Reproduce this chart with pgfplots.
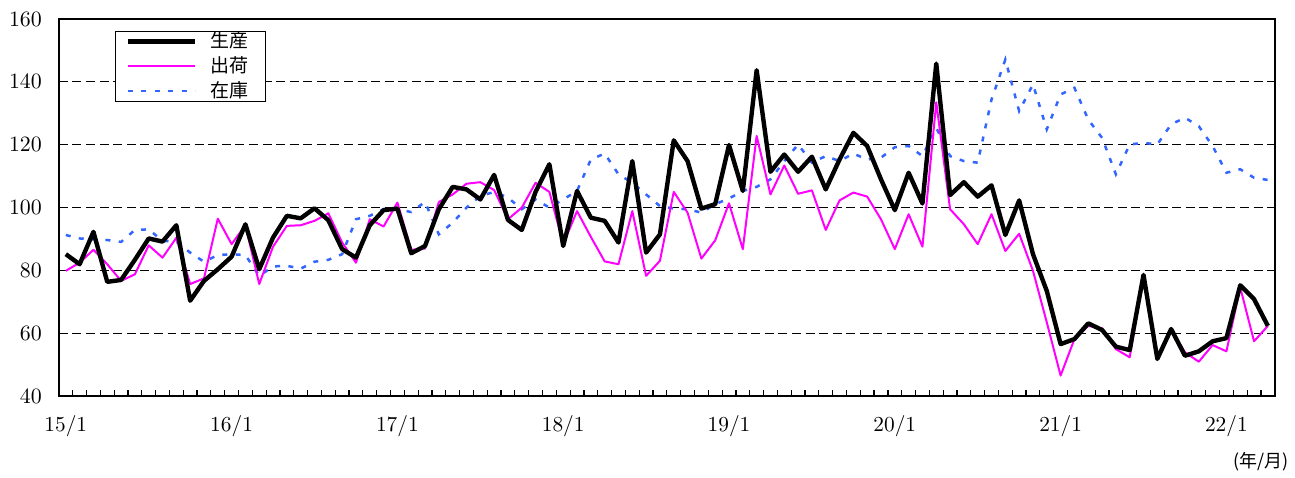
\documentclass[border=0pt]{standalone}
\usepackage{pgfplots}
\pgfplotsset{compat=1.18}
\usepackage{pgfplotstable}
\usepackage{fontspec}
\newfontfamily\cjk{Noto Sans CJK JP}
\definecolor{prodblack}{RGB}{0,0,0}
\definecolor{shipmag}{RGB}{255,0,255}
\definecolor{invblue}{RGB}{51,102,255}

\pgfplotstableread{
i P S I
0 85.2 79.9 91.3
1 82.0 82.5 90.2
2 92.3 86.6 89.9
3 76.4 82.0 89.7
4 77.0 76.7 89.1
5 83.4 78.8 92.9
6 90.2 88.0 93.1
7 89.2 84.1 89.4
8 94.4 90.4 89.2
9 70.4 75.7 85.7
10 76.7 77.5 82.8
11 80.4 96.5 84.9
12 84.4 88.4 85.2
13 94.7 94.4 84.9
14 80.4 75.7 78.3
15 90.5 87.6 81.3
16 97.4 94.2 81.5
17 96.6 94.4 80.6
18 99.8 95.8 82.8
19 96.0 98.2 83.4
20 86.8 88.9 85.2
21 84.1 82.5 96.3
22 94.4 96.3 97.4
23 99.2 94.0 99.5
24 99.7 101.6 99.5
25 85.5 86.6 98.6
26 87.8 87.0 101.8
27 99.5 101.8 91.5
28 106.6 104.2 95.2
29 105.8 107.6 100.0
30 102.6 108.1 103.7
31 110.4 105.6 105.0
32 96.1 96.3 103.2
33 92.9 100.0 99.5
34 105.0 107.9 102.6
35 113.8 105.0 100.0
36 87.8 88.4 102.6
37 105.3 98.9 105.3
38 96.8 90.7 115.3
39 95.8 82.9 117.2
40 88.9 82.0 110.6
41 114.8 98.9 107.9
42 85.7 78.3 104.2
43 91.5 83.1 100.5
44 121.4 105.0 99.7
45 114.8 98.4 99.5
46 99.7 83.8 98.4
47 101.1 89.6 101.1
48 119.9 101.4 102.9
49 105.3 86.8 105.3
50 143.7 122.8 106.6
51 111.4 104.2 109.0
52 116.9 113.4 114.8
53 111.4 104.4 120.1
54 116.2 105.5 114.3
55 105.8 92.9 116.4
56 115.3 102.3 114.8
57 123.8 104.8 117.2
58 119.6 103.5 115.3
59 109.0 96.3 115.9
60 99.2 86.8 119.2
61 111.1 97.9 119.6
62 101.3 87.6 116.4
63 145.8 133.5 125.4
64 104.0 99.5 116.4
65 108.1 94.7 114.8
66 103.5 88.4 114.3
67 107.1 97.9 134.4
68 91.3 86.2 147.1
69 102.3 91.7 130.7
70 85.2 79.9 139.2
71 73.5 63.5 124.9
72 56.6 46.6 136.0
73 58.2 58.2 138.1
74 63.2 62.4 128.0
75 61.1 61.6 122.2
76 55.8 55.0 110.6
77 54.7 52.4 120.1
78 78.6 78.3 120.6
79 51.9 52.9 120.1
80 61.4 61.1 126.5
81 52.9 54.0 128.6
82 54.3 51.0 125.9
83 57.5 56.3 119.6
84 58.5 54.3 111.1
85 75.3 74.6 112.2
86 70.9 57.5 109.5
87 62.4 62.4 108.8
}\datatable

\begin{document}
\begin{tikzpicture}
\begin{axis}[
  name=ax,
  scale only axis,
  width=609pt, height=189pt,
  xmin=-0.5, xmax=87.5, ymin=40, ymax=160,
  xtick={0,12,...,84},
  xticklabels={15/1,16/1,17/1,18/1,19/1,20/1,21/1,22/1},
  minor xtick={0.5,1.5,...,86.5},
  ytick={40,60,...,160},
  xtick pos=lower, ytick pos=left,
  tick align=inside,
  major tick length=0pt,
  minor tick length=3pt,
  tick style={black, line width=0.5pt},
  minor x tick style={black, line width=0.6pt},
  axis line style={black, line width=1pt},
  ymajorgrids,
  major grid style={black, line width=0.5pt, dash pattern=on 4.5pt off 2.3pt},
  ticklabel style={font=\fontsize{10.7}{12}\selectfont},
  yticklabel style={xshift=-5pt},
  xticklabel style={yshift=-6pt},
  legend image code/.code={\draw[#1] (0pt,0pt) -- (33.5pt,0pt);},
  legend cell align=left,
  reverse legend,
  legend style={at={(0.0465,0.969)}, anchor=north west,
    draw=black, line width=0.5pt,
    font=\cjk\fontsize{9.5}{10}\selectfont,
    inner xsep=5pt, inner ysep=0pt,
    row sep=2.1pt,
    nodes={inner xsep=3.5pt, inner ysep=0.4pt},
    /tikz/every odd column/.append style={column sep=3pt}},
]
\addplot[invblue, line width=1.25pt, dash pattern=on 2.5pt off 4.2pt] table[x=i,y=I]{\datatable};
\addplot[shipmag, line width=1pt, line join=round] table[x=i,y=S]{\datatable};
\addplot[prodblack, line width=2.2pt, line join=round] table[x=i,y=P]{\datatable};
\legend{在庫,出荷,生産}
\end{axis}
\node[font=\cjk\fontsize{9}{10}\selectfont] at ([xshift=-7pt,yshift=-32.5pt]ax.south east) {(年/月)};
\path ([xshift=-29.5pt,yshift=-37.5pt]ax.south west) rectangle ([xshift=9pt,yshift=9.5pt]ax.north east);
\end{tikzpicture}
\end{document}
